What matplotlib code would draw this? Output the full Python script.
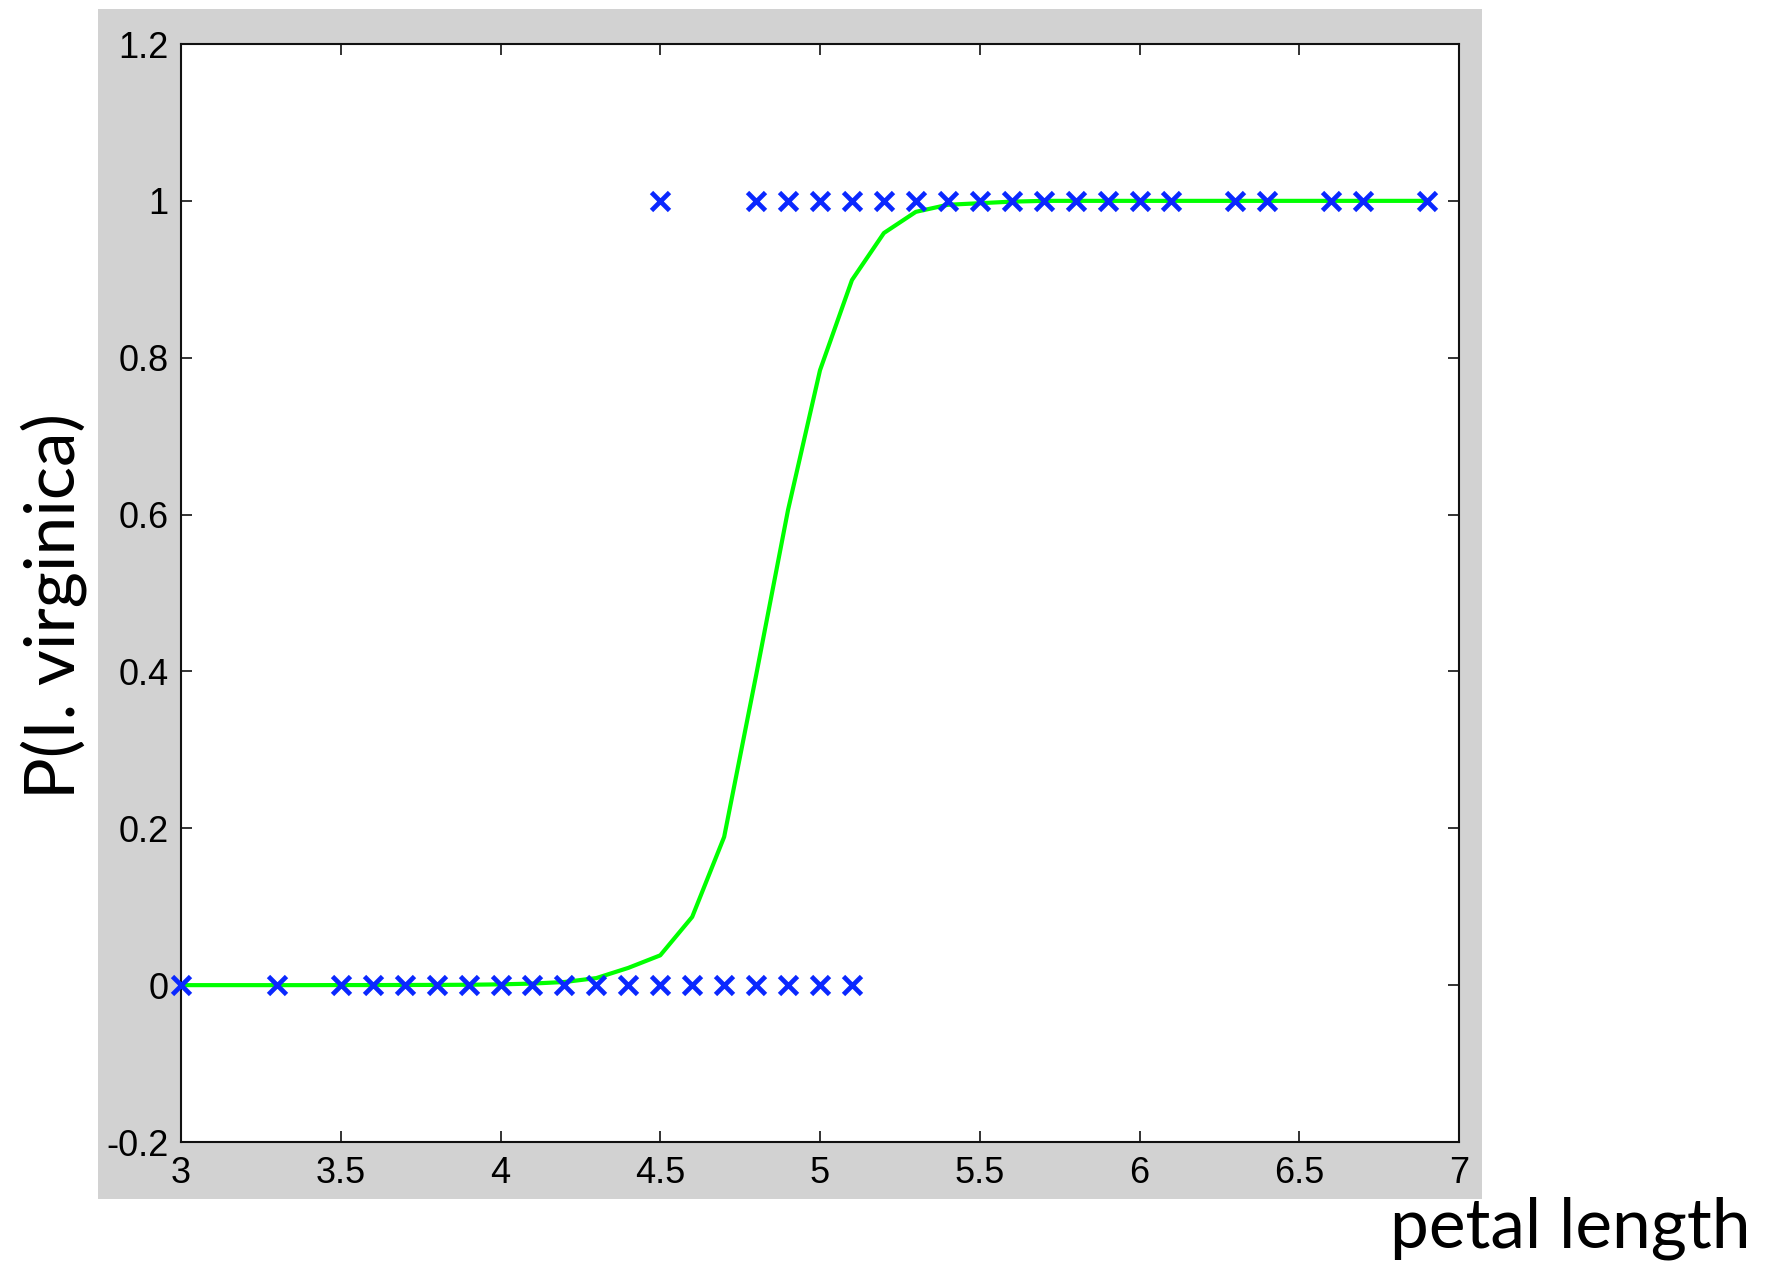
import matplotlib
matplotlib.use('Agg')
import matplotlib.pyplot as plt
from matplotlib.patches import Rectangle

# observed points (petal length, class label)
x_neg = [3.0, 3.3, 3.5, 3.6, 3.7, 3.8, 3.9, 4.0, 4.1, 4.2, 4.3, 4.4,
         4.5, 4.6, 4.7, 4.8, 4.9, 5.0, 5.1]
y_neg = [0] * len(x_neg)
x_pos = [4.5, 4.8, 4.9, 5.0, 5.1, 5.2, 5.3, 5.4, 5.5, 5.6, 5.7, 5.8,
         5.9, 6.0, 6.1, 6.3, 6.4, 6.6, 6.7, 6.9]
y_pos = [1] * len(x_pos)

# fitted probability curve
curve_x = [3.0, 3.1, 3.2, 3.3, 3.4, 3.5, 3.6, 3.7, 3.8, 3.9,
           4.0, 4.1, 4.2, 4.3, 4.4, 4.5, 4.6, 4.7, 4.8, 4.9,
           5.0, 5.1, 5.2, 5.3, 5.4, 5.5, 5.6, 5.7, 5.8, 5.9,
           6.0, 6.1, 6.2, 6.3, 6.4, 6.5, 6.6, 6.7, 6.8, 6.9]
curve_p = [0.0, 0.0, 0.0, 0.0, 0.0, 0.0001, 0.0001, 0.0002, 0.0003, 0.0005,
           0.001, 0.002, 0.004, 0.009, 0.022, 0.038, 0.087, 0.189, 0.395, 0.606,
           0.784, 0.899, 0.959, 0.986, 0.995, 0.997, 0.999, 1.0, 1.0, 1.0,
           1.0, 1.0, 1.0, 1.0, 1.0, 1.0, 1.0, 1.0, 1.0, 1.0]

xticks = [3, 3.5, 4, 4.5, 5, 5.5, 6, 6.5, 7]
xtick_labels = ['3', '3.5', '4', '4.5', '5', '5.5', '6', '6.5', '7']
yticks = [-0.2, 0, 0.2, 0.4, 0.6, 0.8, 1, 1.2]
ytick_labels = ['-0.2', '0', '0.2', '0.4', '0.6', '0.8', '1', '1.2']

W, H = 1777, 1264
fig = plt.figure(figsize=(W / 100, H / 100), dpi=100, facecolor='white')

# grey matlab-style figure panel
fig.add_artist(Rectangle((98 / W, 1 - 1199 / H), 1384 / W, 1190 / H,
                         transform=fig.transFigure, facecolor='#d2d2d2',
                         edgecolor='none', zorder=-10))

ax = fig.add_axes([181 / W, 1 - 1142 / H, 1278 / W, 1098 / H])
ax.set_facecolor('white')

ax.plot(curve_x, curve_p, color='#00ff00', lw=3, zorder=2)
ax.plot(x_neg, y_neg, linestyle='none', marker='x', color='#0a28ff',
        markersize=12.5, markeredgewidth=3.4, zorder=3, clip_on=False)
ax.plot(x_pos, y_pos, linestyle='none', marker='x', color='#0a28ff',
        markersize=12.5, markeredgewidth=3.4, zorder=3, clip_on=False)

ax.set_xlim(3, 7)
ax.set_ylim(-0.2, 1.2)
ax.set_xticks(xticks)
ax.set_xticklabels(xtick_labels)
ax.set_yticks(yticks)
ax.set_yticklabels(ytick_labels)

for sp in ax.spines.values():
    sp.set_linewidth(1.5)
    sp.set_color('#111111')

ax.tick_params(direction='in', length=8, width=1.2, top=True, right=True,
               labelsize=26, colors='#111111', labelcolor='black')
ax.tick_params(axis='x', pad=10)
ax.tick_params(axis='y', pad=9)
for lab in ax.get_xticklabels() + ax.get_yticklabels():
    lab.set_family(['Liberation Sans', 'DejaVu Sans'])

fig.text(54 / W, 1 - 606 / H, 'P(I. virginica)', rotation=90,
         ha='center', va='center', fontsize=50, family=['Lato', 'DejaVu Sans'])
fig.text(1751 / W, 1 - 1247 / H, 'petal length', ha='right', va='baseline',
         fontsize=50, family=['Lato', 'DejaVu Sans'])

fig.savefig('out.png', dpi=100, facecolor='white')
